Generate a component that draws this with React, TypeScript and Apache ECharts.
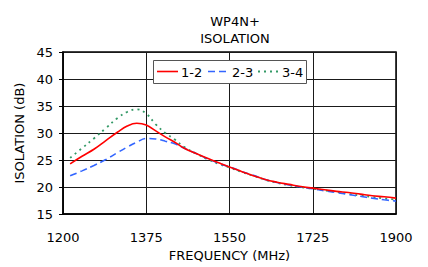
import React, { useEffect, useRef } from "react";
import * as echarts from "echarts";

const freqs = [1215, 1240, 1265, 1290, 1315, 1335, 1355, 1375, 1395, 1415, 1435, 1455, 1480, 1505, 1530, 1550, 1575, 1600, 1625, 1650, 1675, 1700, 1725, 1750, 1775, 1800, 1825, 1850, 1875, 1900];
const iso12 = [24.3, 25.7, 27.0, 28.6, 30.2, 31.3, 31.8, 31.5, 30.4, 29.3, 28.3, 27.2, 26.2, 25.3, 24.4, 23.7, 22.9, 22.1, 21.4, 20.9, 20.5, 20.1, 19.8, 19.5, 19.2, 19.0, 18.7, 18.4, 18.2, 17.95];
const iso23 = [22.1, 23.0, 24.0, 25.1, 26.4, 27.4, 28.3, 29.0, 28.9, 28.5, 28.0, 27.2, 26.2, 25.2, 24.3, 23.75, 22.9, 22.2, 21.4, 20.85, 20.4, 20.0, 19.7, 19.3, 19.0, 18.6, 18.3, 17.95, 17.65, 17.4];
const iso34 = [25.4, 27.2, 29.0, 30.9, 32.8, 33.9, 34.4, 33.6, 31.6, 30.0, 28.8, 27.4, 26.2, 25.1, 24.2, 23.6, 22.8, 22.1, 21.35, 20.8, 20.35, 20.0, 19.7, 19.4, 19.1, 18.75, 18.45, 18.15, 17.9, 17.7];
const seriesNames = ["1-2", "2-3", "3-4"];
const seriesColors = ["#FF0000", "#3366FF", "#339966"];
const xStart = 1200;
const xEnd = 1900;
const xStep = 175;
const yMin = 15;
const yMax = 45;
const yStep = 5;

const FONT = "DejaVu Sans";

export default function App() {
  const ref = useRef<HTMLDivElement>(null);
  useEffect(() => {
    if (!ref.current) return;
    const chart = echarts.init(ref.current, null, { renderer: "svg" });
    const mk = (vals: number[]) => freqs.map((f, i) => [f - xStart, vals[i]]);
    const gridLine = { show: true, lineStyle: { color: "#1a1a1a", width: 1 } };
    const dashes: (number[] | null)[] = [null, [7, 4], [2, 4]];
    const legendItems: any[] = [];
    const lx = [157, 208, 258];
    seriesNames.forEach((n, i) => {
      legendItems.push({
        type: "line",
        shape: { x1: lx[i], y1: 71.5, x2: lx[i] + 21, y2: 71.5 },
        style: { stroke: seriesColors[i], lineWidth: i === 2 ? 1.8 : 1.6, lineDash: dashes[i] || undefined },
        z: 101,
      });
      legendItems.push({
        type: "text",
        x: lx[i] + 24,
        y: 72,
        style: { text: n, fontFamily: FONT, fontSize: 13, fill: "#000", verticalAlign: "middle", align: "left" },
        z: 101,
      });
    });
    chart.setOption({
      animation: false,
      backgroundColor: "#fff",
      title: {
        text: "WP4N+\nISOLATION",
        left: 230,
        top: 8,
        textAlign: "center",
        textStyle: { fontFamily: FONT, fontSize: 13, fontWeight: "normal", color: "#000", lineHeight: 17 },
      },
      graphic: [
        {
          type: "rect",
          shape: { x: 153.5, y: 60.5, width: 153, height: 23 },
          style: { fill: "#fff", stroke: "#555", lineWidth: 1 },
          z: 100,
        },
        ...legendItems,
      ],
      grid: {
        left: 63,
        right: 32,
        top: 52,
        bottom: 50,
        show: true,
        borderColor: "#000",
        borderWidth: 1.5,
      },
      xAxis: {
        type: "value",
        min: 0,
        max: xEnd - xStart,
        interval: xStep,
        name: "FREQUENCY (MHz)",
        nameLocation: "middle",
        nameGap: 33,
        nameTextStyle: { fontFamily: FONT, fontSize: 13, color: "#000" },
        axisLine: { lineStyle: { color: "#000", width: 1.5 } },
        axisTick: { show: false },
        axisLabel: {
          fontFamily: FONT,
          fontSize: 13,
          color: "#000",
          margin: 17,
          formatter: (v: number) => String(v + xStart),
        },
        splitLine: gridLine,
      },
      yAxis: {
        type: "value",
        min: yMin,
        max: yMax,
        interval: yStep,
        name: "ISOLATION (dB)",
        nameLocation: "middle",
        nameGap: 34,
        nameTextStyle: { fontFamily: FONT, fontSize: 13, color: "#000" },
        axisLine: { show: true, lineStyle: { color: "#000", width: 1.5 } },
        axisTick: { show: true, inside: false, length: 4, lineStyle: { color: "#000" } },
        axisLabel: { fontFamily: FONT, fontSize: 13, color: "#000", margin: 10 },
        splitLine: gridLine,
      },
      series: [
        {
          name: seriesNames[0],
          type: "line",
          data: mk(iso12),
          smooth: 0.4,
          symbol: "none",
          lineStyle: { color: seriesColors[0], width: 1.6, type: "solid" },
          z: 4,
        },
        {
          name: seriesNames[1],
          type: "line",
          data: mk(iso23),
          smooth: 0.4,
          symbol: "none",
          lineStyle: { color: seriesColors[1], width: 1.6, type: [7, 4] },
          z: 3,
        },
        {
          name: seriesNames[2],
          type: "line",
          data: mk(iso34),
          smooth: 0.4,
          symbol: "none",
          lineStyle: { color: seriesColors[2], width: 1.8, type: [2, 4] },
          z: 2,
        },
      ],
    });
    return () => chart.dispose();
  }, []);
  return <div ref={ref} style={{ position: "fixed", left: 0, top: 0, width: 428, height: 267 }} />;
}
